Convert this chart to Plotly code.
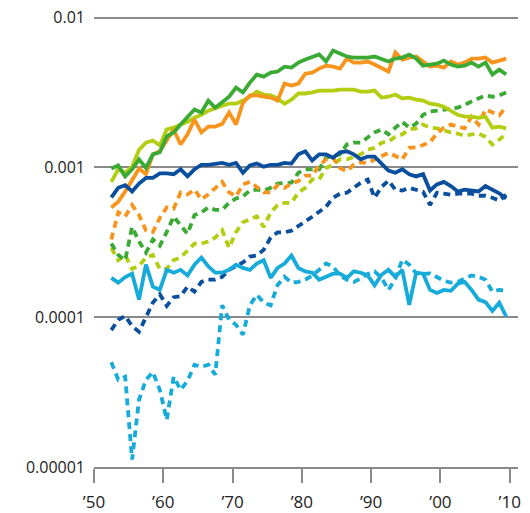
import plotly.graph_objects as go

years = list(range(1952, 2010))

green_solid = [0.00098, 0.00103, 0.00087, 0.00097, 0.00113, 0.00099, 0.00122, 0.00126, 0.00161, 0.00171,
               0.00193, 0.00218, 0.00243, 0.00232, 0.00279, 0.00250, 0.00270, 0.00296, 0.00340, 0.00316,
               0.00368, 0.00416, 0.00403, 0.00429, 0.00436, 0.00470, 0.00463, 0.00500, 0.00524, 0.00549,
               0.00566, 0.00508, 0.00602, 0.00575, 0.00549, 0.00540, 0.00540, 0.00540, 0.00549, 0.00532,
               0.00508, 0.00532, 0.00540, 0.00566, 0.00532, 0.00477, 0.00485, 0.00492, 0.00516, 0.00485,
               0.00470, 0.00477, 0.00500, 0.00470, 0.00500, 0.00416, 0.00449, 0.00416]

orange_solid = [0.00054, 0.00059, 0.00069, 0.00083, 0.00098, 0.00090, 0.00122, 0.00128, 0.00153, 0.00179,
                0.00142, 0.00166, 0.00208, 0.00171, 0.00187, 0.00187, 0.00195, 0.00232, 0.00193, 0.00270,
                0.00302, 0.00302, 0.00296, 0.00292, 0.00279, 0.00362, 0.00351, 0.00362, 0.00422, 0.00429,
                0.00456, 0.00477, 0.00470, 0.00456, 0.00532, 0.00500, 0.00500, 0.00508, 0.00485, 0.00463,
                0.00436, 0.00584, 0.00524, 0.00540, 0.00549, 0.00508, 0.00470, 0.00477, 0.00463, 0.00508,
                0.00485, 0.00500, 0.00532, 0.00532, 0.00540, 0.00500, 0.00516, 0.00532]

yellowgreen_solid = [0.00080, 0.00097, 0.00092, 0.00101, 0.00131, 0.00146, 0.00151, 0.00140, 0.00179, 0.00184,
                     0.00193, 0.00201, 0.00214, 0.00224, 0.00239, 0.00250, 0.00258, 0.00266, 0.00266, 0.00279,
                     0.00296, 0.00320, 0.00306, 0.00302, 0.00288, 0.00266, 0.00283, 0.00311, 0.00311, 0.00316,
                     0.00325, 0.00325, 0.00325, 0.00330, 0.00330, 0.00330, 0.00320, 0.00320, 0.00325, 0.00292,
                     0.00296, 0.00306, 0.00288, 0.00292, 0.00283, 0.00279, 0.00266, 0.00262, 0.00254, 0.00239,
                     0.00224, 0.00218, 0.00218, 0.00214, 0.00218, 0.00184, 0.00187, 0.00182]

navy_solid = [0.00063, 0.00073, 0.00076, 0.00069, 0.00078, 0.00085, 0.00085, 0.00091, 0.00091, 0.00090,
              0.00097, 0.00087, 0.00097, 0.00104, 0.00104, 0.00106, 0.00107, 0.00104, 0.00107, 0.00092,
              0.00103, 0.00106, 0.00101, 0.00104, 0.00104, 0.00107, 0.00106, 0.00122, 0.00128, 0.00111,
              0.00122, 0.00122, 0.00116, 0.00126, 0.00128, 0.00122, 0.00113, 0.00118, 0.00118, 0.00106,
              0.00095, 0.00092, 0.00097, 0.00090, 0.00087, 0.00090, 0.00070, 0.00077, 0.00080, 0.00075,
              0.00069, 0.00071, 0.00070, 0.00069, 0.00075, 0.00071, 0.00067, 0.00062]

cyan_solid = [0.000183, 0.000170, 0.000185, 0.000195, 0.000131, 0.000224, 0.000160, 0.000152, 0.000207, 0.000198,
              0.000207, 0.000190, 0.000224, 0.000250, 0.000218, 0.000198, 0.000198, 0.000207, 0.000224, 0.000213,
              0.000207, 0.000228, 0.000240, 0.000183, 0.000213, 0.000228, 0.000258, 0.000213, 0.000202, 0.000198,
              0.000178, 0.000185, 0.000195, 0.000195, 0.000183, 0.000202, 0.000198, 0.000190, 0.000163, 0.000192,
              0.000207, 0.000186, 0.000207, 0.000121, 0.000198, 0.000195, 0.000152, 0.000145, 0.000152, 0.000150,
              0.000167, 0.000172, 0.000152, 0.000131, 0.000126, 0.000110, 0.000125, 0.000101]

orange_dotted = [0.00033, 0.00050, 0.00047, 0.00056, 0.00048, 0.00038, 0.00037, 0.00046, 0.00054, 0.00053,
                 0.00068, 0.00066, 0.00071, 0.00061, 0.00066, 0.00073, 0.00080, 0.00068, 0.00064, 0.00077,
                 0.00080, 0.00074, 0.00068, 0.00068, 0.00076, 0.00073, 0.00078, 0.00081, 0.00088, 0.00088,
                 0.00103, 0.00113, 0.00116, 0.00099, 0.00094, 0.00104, 0.00108, 0.00107, 0.00113, 0.00119,
                 0.00125, 0.00119, 0.00113, 0.00135, 0.00136, 0.00141, 0.00147, 0.00168, 0.00184, 0.00193,
                 0.00187, 0.00182, 0.00218, 0.00193, 0.00243, 0.00232, 0.00222, 0.00254]

green_dotted = [0.00031, 0.00026, 0.00024, 0.00040, 0.00032, 0.00027, 0.00033, 0.00030, 0.00037, 0.00047,
                0.00041, 0.00036, 0.00048, 0.00050, 0.00054, 0.00052, 0.00052, 0.00058, 0.00062, 0.00064,
                0.00070, 0.00071, 0.00070, 0.00073, 0.00078, 0.00078, 0.00079, 0.00092, 0.00097, 0.00097,
                0.00097, 0.00116, 0.00119, 0.00122, 0.00142, 0.00146, 0.00146, 0.00158, 0.00171, 0.00179,
                0.00166, 0.00184, 0.00201, 0.00184, 0.00196, 0.00224, 0.00236, 0.00239, 0.00243, 0.00247,
                0.00250, 0.00262, 0.00275, 0.00292, 0.00302, 0.00296, 0.00302, 0.00316]

yellowgreen_dotted = [0.00029, 0.00024, 0.00026, 0.00021, 0.00022, 0.00025, 0.00026, 0.00021, 0.00021, 0.00024,
                      0.00025, 0.00028, 0.00031, 0.00031, 0.00032, 0.00034, 0.00038, 0.00029, 0.00037, 0.00043,
                      0.00045, 0.00047, 0.00040, 0.00050, 0.00056, 0.00058, 0.00058, 0.00068, 0.00073, 0.00083,
                      0.00083, 0.00099, 0.00104, 0.00113, 0.00113, 0.00118, 0.00122, 0.00131, 0.00135, 0.00146,
                      0.00148, 0.00160, 0.00166, 0.00179, 0.00182, 0.00193, 0.00184, 0.00182, 0.00176, 0.00171,
                      0.00168, 0.00162, 0.00166, 0.00168, 0.00160, 0.00142, 0.00153, 0.00168]

navy_dotted = [0.000082, 0.000096, 0.000102, 0.000087, 0.000080, 0.000099, 0.000125, 0.000142, 0.000119, 0.000136,
               0.000138, 0.000160, 0.000148, 0.000172, 0.000178, 0.000178, 0.000186, 0.000207, 0.000218, 0.000232,
               0.000254, 0.000258, 0.000282, 0.000340, 0.000368, 0.000368, 0.000378, 0.000404, 0.000434, 0.000468,
               0.000506, 0.000546, 0.000627, 0.000667, 0.000677, 0.000730, 0.000789, 0.000828, 0.000627, 0.000741,
               0.000815, 0.000710, 0.000699, 0.000730, 0.000710, 0.000687, 0.000561, 0.000677, 0.000667, 0.000656,
               0.000667, 0.000667, 0.000667, 0.000646, 0.000646, 0.000627, 0.000598, 0.000656]

cyan_dotted = [0.0000500, 0.0000382, 0.0000400, 0.0000112, 0.0000281, 0.0000382, 0.0000430, 0.0000327, 0.0000206, 0.0000400,
               0.0000327, 0.0000375, 0.0000481, 0.0000466, 0.0000481, 0.0000413, 0.000120, 0.0000961, 0.0000890, 0.0000763,
               0.000120, 0.000141, 0.000125, 0.000120, 0.000164, 0.000186, 0.000170, 0.000172, 0.000178, 0.000190,
               0.000207, 0.000228, 0.000218, 0.000190, 0.000178, 0.000172, 0.000181, 0.000194, 0.000202, 0.000183,
               0.000152, 0.000181, 0.000242, 0.000224, 0.000196, 0.000194, 0.000196, 0.000186, 0.000175, 0.000170,
               0.000172, 0.000181, 0.000190, 0.000186, 0.000178, 0.000148, 0.000152, 0.000150]

x_tick_vals = [1950, 1960, 1970, 1980, 1990, 2000, 2010]
x_tick_text = ["\u201950", "\u201960", "\u201970", "\u201980", "\u201990", "\u201900", "\u201910"]
y_tick_vals = [0.00001, 0.0001, 0.001, 0.01]
y_tick_text = ["0.00001", "0.0001", "0.001", "0.01"]

NAVY = "#0a4f9e"
GREEN = "#3aaa35"
ORANGE = "#f7941d"
YGREEN = "#b3cd12"
CYAN = "#16abd9"

xs = [y + 0.5 for y in years]

fig = go.Figure()

dotted = [(yellowgreen_dotted, YGREEN), (green_dotted, GREEN), (orange_dotted, ORANGE),
          (navy_dotted, NAVY), (cyan_dotted, CYAN)]
solid = [(yellowgreen_solid, YGREEN), (orange_solid, ORANGE), (green_solid, GREEN),
         (navy_solid, NAVY), (cyan_solid, CYAN)]

for vals, col in dotted:
    fig.add_trace(go.Scatter(x=xs, y=vals, mode="lines",
                             line=dict(color=col, width=3.8, dash="7px,5px"),
                             hoverinfo="skip", showlegend=False, cliponaxis=False))
for vals, col in solid:
    fig.add_trace(go.Scatter(x=xs, y=vals, mode="lines",
                             line=dict(color=col, width=3.8),
                             hoverinfo="skip", showlegend=False, cliponaxis=False))

fig.update_layout(
    width=530, height=513,
    margin=dict(l=94, r=12, t=13, b=46, autoexpand=False),
    paper_bgcolor="white", plot_bgcolor="white",
    font=dict(family="Open Sans, DejaVu Sans, sans-serif", size=16, color="#222222"),
    showlegend=False,
)
fig.update_xaxes(
    range=[1950, 2011.2], automargin=False,
    tickvals=x_tick_vals, ticktext=x_tick_text,
    tickfont=dict(size=17),
    showgrid=False, zeroline=False,
    showline=True, linecolor="#8a8a8a", linewidth=2,
    ticks="outside", ticklen=14, tickwidth=2, tickcolor="#8a8a8a",
    ticklabelstandoff=5,
)
fig.update_yaxes(
    type="log", range=[-5, -1.97], automargin=False,
    tickvals=y_tick_vals, ticktext=y_tick_text,
    showgrid=True, gridcolor="#8a8a8a", gridwidth=2,
    zeroline=False, showline=False, ticks="",
    ticklabelstandoff=8,
)

fig.write_html(
    "out.html",
    config={"displayModeBar": False},
    post_script="document.body.style.margin='0';document.body.style.overflow='hidden';",
)
